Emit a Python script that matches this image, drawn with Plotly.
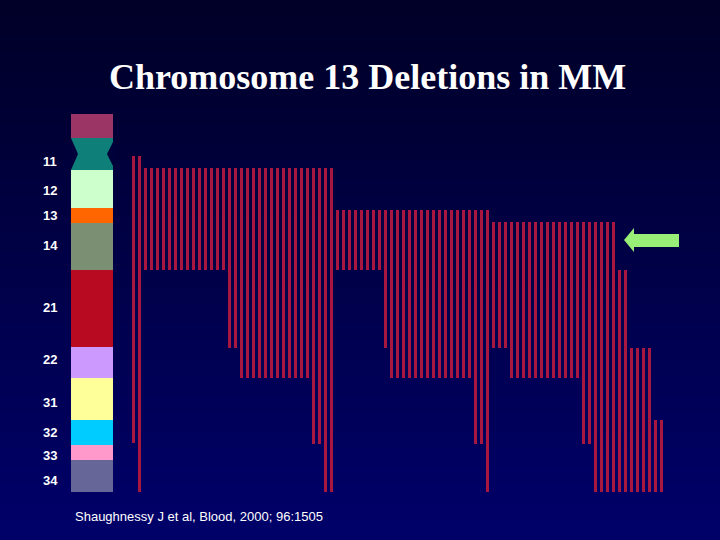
import plotly.graph_objects as go

# band boundaries on the ideogram (same scale as the deletion lines)
band_names = ["p", "11", "12", "13", "14", "21", "22", "31", "32", "33", "34"]
band_top = [114, 138, 170, 208, 223, 270, 347, 378, 420, 445, 460]
band_bot = [138, 170, 208, 223, 270, 347, 378, 420, 445, 460, 492]
band_colors = ["#9b3566", "#0f7f7a", "#ccffcc", "#ff6600", "#7b8f73", "#b80a20",
               "#cc99ff", "#ffff99", "#00ccff", "#ff99cc", "#666699"]
label_pos = [None, 161, 190, 215, 245, 307, 359, 402, 432, 455, 480]

# deletion extents, one per patient, in groups (count, top, bottom)
groups = [
    (1, 156, 443), (1, 156, 492),
    (14, 168, 270), (2, 168, 348), (12, 168, 378), (2, 168, 444), (2, 168, 492),
    (8, 210, 270), (1, 210, 348), (14, 210, 378), (2, 210, 444), (1, 210, 492),
    (3, 222, 348), (12, 222, 378), (2, 222, 444), (4, 222, 492),
    (2, 270, 492), (4, 348, 492), (2, 420, 492),
]
del_top, del_bot = [], []
for n, t, b in groups:
    del_top += [t] * n
    del_bot += [b] * n
del_x = [132 + 6 * i for i in range(len(del_top))]

fig = go.Figure()

# background gradient
shapes = []
steps = 30
for i in range(steps):
    f = i / (steps - 1)
    c = "rgb(0,0,%d)" % int(40 + f * 65)
    shapes.append(dict(type="rect", xref="paper", yref="paper", x0=0, x1=1,
                       y0=1 - (i + 1) / steps, y1=1 - i / steps + 0.002,
                       fillcolor=c, line_width=0, layer="below"))

# ideogram
fig.add_trace(go.Bar(x=[93] * len(band_top), base=band_top,
                     y=[b - t for t, b in zip(band_top, band_bot)],
                     width=42, marker_color=band_colors, marker_line_width=0,
                     hoverinfo="skip"))
# centromere notches
fig.add_trace(go.Scatter(x=[71, 78, 71, 71], y=[138, 154, 170, 138], fill="toself",
                         fillcolor="rgb(0,0,58)", mode="none", hoverinfo="skip"))
fig.add_trace(go.Scatter(x=[115, 107, 115, 115], y=[138, 154, 170, 138], fill="toself",
                         fillcolor="rgb(0,0,58)", mode="none", hoverinfo="skip"))

# deletion lines
fig.add_trace(go.Bar(x=del_x, base=del_top,
                     y=[b - t for t, b in zip(del_top, del_bot)],
                     width=3.4, marker_color="#a8173f", marker_line_width=0))

# green arrow
fig.add_trace(go.Scatter(x=[624, 634, 634, 679, 679, 634, 634, 624],
                         y=[240, 228, 234, 234, 247, 247, 252, 240],
                         fill="toself", fillcolor="#99ee77", mode="none",
                         hoverinfo="skip"))

annotations = []
for name, y in zip(band_names, label_pos):
    if y is None:
        continue
    annotations.append(dict(x=50, y=y, text="<b>%s</b>" % name, showarrow=False,
                            font=dict(family="Arial", size=13, color="white")))
annotations.append(dict(x=367, y=77, text="<b>Chromosome 13 Deletions in MM</b>",
                        showarrow=False,
                        font=dict(family="Liberation Serif", size=36, color="white")))
annotations.append(dict(x=73, y=516, text="Shaughnessy J et al, Blood, 2000; 96:1505",
                        showarrow=False, xanchor="left",
                        font=dict(family="Arial", size=13, color="white")))

fig.update_layout(width=720, height=540, margin=dict(l=0, r=0, t=0, b=0),
                  paper_bgcolor="rgb(0,0,60)", plot_bgcolor="rgba(0,0,0,0)",
                  showlegend=False, bargap=0, shapes=shapes, annotations=annotations,
                  xaxis=dict(range=[0, 720], visible=False, fixedrange=True),
                  yaxis=dict(range=[540, 0], visible=False, fixedrange=True))

fig.write_html("out.html", config={"displayModeBar": False},
               post_script="document.body.style.margin='0';"
                           "document.body.style.overflow='hidden';")
